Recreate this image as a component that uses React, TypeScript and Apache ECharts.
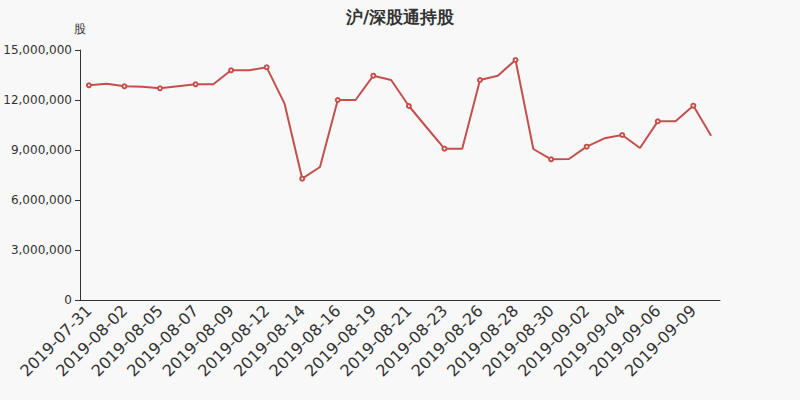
import React, { useEffect, useRef } from "react";
import * as echarts from "echarts";

const title = "沪/深股通持股";
const yAxisName = "股";

const categories = [
  "2019-07-31", "2019-08-01", "2019-08-02", "2019-08-03", "2019-08-05", "2019-08-06",
  "2019-08-07", "2019-08-08", "2019-08-09", "2019-08-10", "2019-08-12", "2019-08-13",
  "2019-08-14", "2019-08-15", "2019-08-16", "2019-08-17", "2019-08-19", "2019-08-20",
  "2019-08-21", "2019-08-22", "2019-08-23", "2019-08-24", "2019-08-26", "2019-08-27",
  "2019-08-28", "2019-08-29", "2019-08-30", "2019-08-31", "2019-09-02", "2019-09-03",
  "2019-09-04", "2019-09-05", "2019-09-06", "2019-09-07", "2019-09-09", "2019-09-10",
];

const holdings = [
  12880000, 12980000, 12820000, 12800000, 12700000, 12820000,
  12940000, 12940000, 13780000, 13780000, 13960000, 11800000,
  7280000, 7980000, 12000000, 12000000, 13460000, 13200000,
  11640000, 10350000, 9080000, 9080000, 13200000, 13460000,
  14400000, 9060000, 8440000, 8460000, 9200000, 9700000,
  9900000, 9120000, 10720000, 10720000, 11660000, 9860000,
];

const yMin = 0;
const yMax = 15000000;
const yInterval = 3000000;

export default function App() {
  const ref = useRef<HTMLDivElement>(null);
  useEffect(() => {
    if (!ref.current) return;
    const chart = echarts.init(ref.current, null, { renderer: "svg" });
    chart.setOption({
      animation: false,
      backgroundColor: "#f8f8f8",
      textStyle: { fontFamily: "DejaVu Sans, sans-serif" },
      title: {
        text: title,
        left: "center",
        top: 3,
        textStyle: { fontSize: 17, fontWeight: "bold", color: "#333" },
      },
      grid: { left: 80, right: 80, top: 50, bottom: 100 },
      xAxis: {
        type: "category",
        data: categories,
        boundaryGap: true,
        axisLine: { lineStyle: { color: "#333" } },
        axisTick: { lineStyle: { color: "#333" } },
        axisLabel: { interval: 1, rotate: 45, fontSize: 16, color: "#333", margin: 8 },
      },
      yAxis: {
        type: "value",
        name: yAxisName,
        nameTextStyle: { color: "#333", fontSize: 12 },
        min: yMin,
        max: yMax,
        interval: yInterval,
        axisLine: { show: true, lineStyle: { color: "#333" } },
        axisTick: { show: true, lineStyle: { color: "#333" } },
        splitLine: { show: false },
        axisLabel: {
          color: "#333",
          fontSize: 12,
          formatter: (v: number) => v.toLocaleString("en-US"),
        },
      },
      series: [
        {
          type: "line",
          data: holdings,
          symbol: (_v: any, p: any) => (p.dataIndex % 2 === 0 ? "emptyCircle" : "none"),
          symbolSize: 4,
          lineStyle: { color: "#c4504d", width: 2 },
          itemStyle: { color: "#c4504d", borderWidth: 1 },
        },
      ],
    });
    return () => chart.dispose();
  }, []);
  return <div ref={ref} style={{ width: 800, height: 400, position: "absolute", left: 0, top: 0 }} />;
}
